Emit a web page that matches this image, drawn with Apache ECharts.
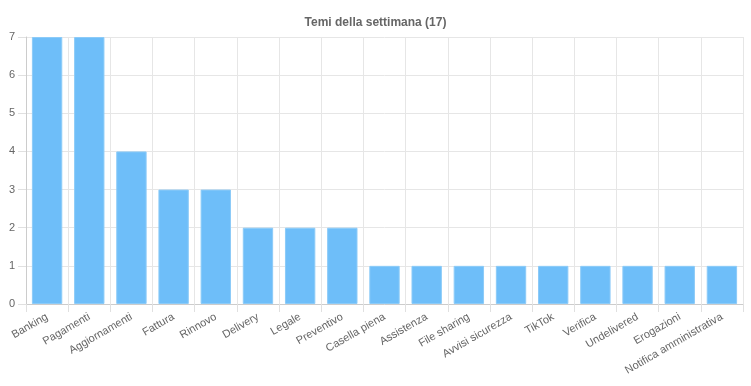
<!DOCTYPE html>
<html><head><meta charset="utf-8">
<script src="https://cdn.jsdelivr.net/npm/echarts@6/dist/echarts.min.js"></script>
<style>html,body{margin:0;padding:0;background:#fff}#c{width:751px;height:386px}</style>
</head><body><div id="c"></div>
<script>
var titleText = 'Temi della settimana (17)';
var categories = ['Banking','Pagamenti','Aggiornamenti','Fattura','Rinnovo','Delivery','Legale','Preventivo','Casella piena','Assistenza','File sharing','Avvisi sicurezza','TikTok','Verifica','Undelivered','Erogazioni','Notifica amministrativa'];
var values = [7,7,4,3,3,2,2,2,1,1,1,1,1,1,1,1,1];
var yTicks = [0,1,2,3,4,5,6,7];

var chart = echarts.init(document.getElementById('c'), null, {renderer:'canvas'});
var font = 'Liberation Sans, Arial, Helvetica, sans-serif';
chart.setOption({
  animation:false,
  title:{text:titleText,left:'center',top:12,textStyle:{fontFamily:font,fontSize:12,fontWeight:'bold',color:'#666'}},
  grid:{left:26,right:8,top:37,bottom:82,containLabel:false},
  xAxis:{type:'category',data:categories,
    axisLine:{lineStyle:{color:'#ccc'}},
    axisTick:{show:true,length:8,lineStyle:{color:'#e0e0e0'}},
    splitLine:{show:true,lineStyle:{color:'#e6e6e6'}},
    axisLabel:{rotate:30,margin:12,fontFamily:font,fontSize:11,color:'#666',interval:0}},
  yAxis:{type:'value',min:yTicks[0],max:yTicks[yTicks.length-1],interval:1,
    axisLine:{show:true,lineStyle:{color:'#ccc'}},
    axisTick:{show:true,length:8,lineStyle:{color:'#e0e0e0'}},
    splitLine:{lineStyle:{color:'#e6e6e6'}},
    axisLabel:{margin:11,fontFamily:font,fontSize:11,color:'#666'}},
  series:[{type:'bar',data:values,barCategoryGap:'28%',
    itemStyle:{color:'#6ebef9',borderColor:'#8ccbf8',borderWidth:1}}]
});
</script></body></html>
